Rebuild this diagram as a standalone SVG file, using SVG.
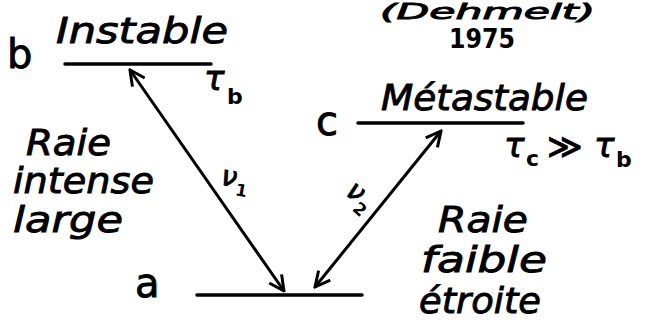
<svg xmlns="http://www.w3.org/2000/svg" width="651" height="327" viewBox="0 0 651 327">
<defs>
<style>
.lvl{stroke:#000;stroke-width:3.5;stroke-linecap:round}
.arr{stroke:#000;stroke-width:3;fill:none;marker-start:url(#ah);marker-end:url(#ah)}
text{font-family:"DejaVu Sans","Liberation Sans",sans-serif;fill:#000;stroke:#000;stroke-width:0.9}
.h{font-style:italic;font-size:36px}
.lab{font-size:40px}
.small{font-size:26px;font-weight:bold;stroke-width:0}
.sym{font-style:italic;font-size:34px}
.sub{font-size:22px;font-weight:bold;stroke-width:0}
</style>
<marker id="ah" viewBox="0 0 12 12" refX="11" refY="6" markerWidth="6" markerHeight="6" orient="auto-start-reverse" markerUnits="strokeWidth">
<path d="M1,1 L11,6 L1,11" fill="none" stroke="#000" stroke-width="2"/>
</marker>
</defs>
<rect width="651" height="327" fill="#fff"/>
<g id="title">
<text class="h" x="380" y="19" style="font-size:21px" textLength="215" lengthAdjust="spacingAndGlyphs">(Dehmelt)</text>
<text class="small" x="449" y="48" textLength="66" lengthAdjust="spacingAndGlyphs">1975</text>
</g>
<g id="level-b">
<line class="lvl" x1="65" y1="64" x2="211" y2="64"/>
<text class="lab" x="7" y="68">b</text>
<text class="h" x="56" y="43" textLength="172" lengthAdjust="spacingAndGlyphs">Instable</text>
<text class="sym" x="204" y="90">τ</text><text class="sub" x="227" y="104">b</text>
</g>
<g id="level-c">
<line class="lvl" x1="358" y1="123" x2="523" y2="123"/>
<text class="lab" x="316" y="135">c</text>
<text class="h" x="381" y="110" textLength="207" lengthAdjust="spacingAndGlyphs">Métastable</text>
<text class="sym" x="504" y="157">τ</text><text class="sub" x="526" y="166">c</text>
<text class="sym" x="547" y="158" style="font-style:normal">≫</text>
<text class="sym" x="594" y="157">τ</text><text class="sub" x="616" y="167">b</text>
</g>
<g id="level-a">
<line class="lvl" x1="197" y1="295" x2="362" y2="295"/>
<text class="lab" x="135" y="297">a</text>
</g>
<g id="note-left">
<text class="h" x="26" y="155" textLength="85" lengthAdjust="spacingAndGlyphs">Raie</text>
<text class="h" x="13" y="193" textLength="141" lengthAdjust="spacingAndGlyphs">intense</text>
<text class="h" x="13" y="232" textLength="110" lengthAdjust="spacingAndGlyphs">large</text>
</g>
<g id="note-right">
<text class="h" x="438" y="232" textLength="90" lengthAdjust="spacingAndGlyphs">Raie</text>
<text class="h" x="421" y="272" textLength="126" lengthAdjust="spacingAndGlyphs">faible</text>
<text class="h" x="419" y="313" textLength="122" lengthAdjust="spacingAndGlyphs">étroite</text>
</g>
<g id="connectors">
<line class="arr" x1="130" y1="70" x2="284" y2="291"/>
<line class="arr" x1="441" y1="131" x2="315" y2="287"/>
<g transform="translate(228,186) rotate(10)"><text class="sym" x="-8" y="0" style="font-size:28px">ν</text><text class="sub" x="8" y="8" style="font-size:17px">1</text></g>
<g transform="translate(352,200) rotate(40)"><text class="sym" x="-10" y="0" style="font-size:28px">ν</text><text class="sub" x="6" y="8" style="font-size:17px">2</text></g>
</g>
</svg>
